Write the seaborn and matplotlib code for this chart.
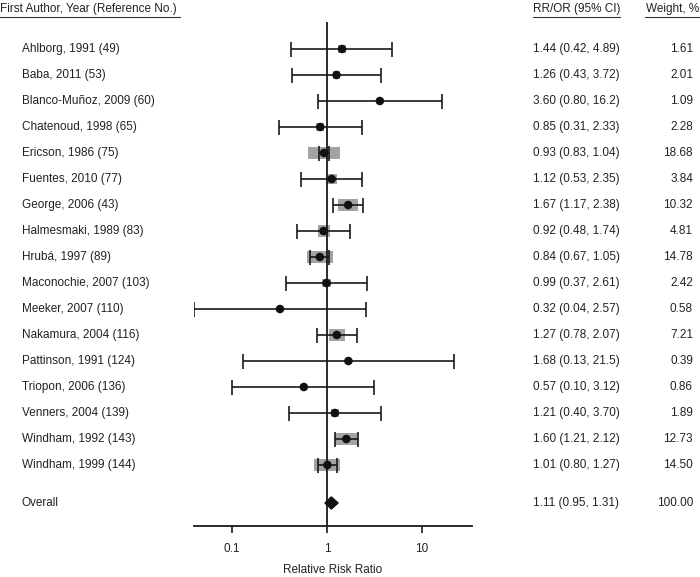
import numpy as np
import matplotlib
matplotlib.use("Agg")
import matplotlib.pyplot as plt
import matplotlib.transforms as mtransforms
from matplotlib.patches import Rectangle, Polygon
from matplotlib.lines import Line2D
import seaborn as sns

studies = [
    "Ahlborg, 1991 (49)", "Baba, 2011 (53)", "Blanco-Muñoz, 2009 (60)",
    "Chatenoud, 1998 (65)", "Ericson, 1986 (75)", "Fuentes, 2010 (77)",
    "George, 2006 (43)", "Halmesmaki, 1989 (83)", "Hrubá, 1997 (89)",
    "Maconochie, 2007 (103)", "Meeker, 2007 (110)", "Nakamura, 2004 (116)",
    "Pattinson, 1991 (124)", "Triopon, 2006 (136)", "Venners, 2004 (139)",
    "Windham, 1992 (143)", "Windham, 1999 (144)",
]
rr = [1.44, 1.26, 3.60, 0.85, 0.93, 1.12, 1.67, 0.92, 0.84, 0.99, 0.32,
      1.27, 1.68, 0.57, 1.21, 1.60, 1.01]
ci_low = [0.42, 0.43, 0.80, 0.31, 0.83, 0.53, 1.17, 0.48, 0.67, 0.37, 0.04,
          0.78, 0.13, 0.10, 0.40, 1.21, 0.80]
ci_high = [4.89, 3.72, 16.2, 2.33, 1.04, 2.35, 2.38, 1.74, 1.05, 2.61, 2.57,
           2.07, 21.5, 3.12, 3.70, 2.12, 1.27]
weight = [1.61, 2.01, 1.09, 2.28, 18.68, 3.84, 10.32, 4.81, 14.78, 2.42, 0.58,
          7.21, 0.39, 0.86, 1.89, 12.73, 14.50]
overall_rr, overall_low, overall_high, overall_weight = 1.11, 0.95, 1.31, 100.00
x_ticks = [0.1, 1, 10]
x_ticklabels = ["0.1", "1", "10"]

sns.set_theme(style="white")
plt.rcParams["font.family"] = ["Liberation Sans", "DejaVu Sans"]

W, H = 700, 577
fig = plt.figure(figsize=(7, 5.77), dpi=100)

# axes geometry in pixels
ax_left, ax_right, ax_top, ax_bottom = 194, 472, 22, 526
ax = fig.add_axes([ax_left / W, 1 - ax_bottom / H,
                   (ax_right - ax_left) / W, (ax_bottom - ax_top) / H])

row0, row_step = 49, 26
n = len(studies)
ypos = np.arange(n)
y_overall = (503 - row0) / row_step

px_per_decade = 95
x_one = 327
xmin = 10 ** ((ax_left - x_one) / px_per_decade)
xmax = 10 ** ((ax_right - x_one) / px_per_decade)
ax.set_xscale("log")
ax.set_xlim(xmin, xmax)
ax.set_ylim((ax_bottom - row0) / row_step, (ax_top - row0) / row_step)

def px_to_logspan(px):
    return px / px_per_decade

def px_to_rows(px):
    return px / row_step

# weight boxes
for y, r, w in zip(ypos, rr, weight):
    wpx = 5 + 1.45 * w
    hpx = min(wpx, 12)
    half = px_to_logspan(wpx / 2)
    x0, x1 = r * 10 ** (-half), r * 10 ** half
    ax.add_patch(Rectangle((x0, y - px_to_rows(hpx / 2)), x1 - x0,
                           px_to_rows(hpx), facecolor="#a3a3a3",
                           edgecolor="none", zorder=1))

# confidence intervals
rr_a = np.array(rr)
ax.errorbar(rr_a, ypos, xerr=[rr_a - np.array(ci_low), np.array(ci_high) - rr_a],
            fmt="none", ecolor="#1a1a1a", elinewidth=1.2, capsize=5.4,
            capthick=1.2, zorder=2)
sns.scatterplot(x=rr, y=ypos, ax=ax, color="#111111", s=38, edgecolor="none",
                zorder=3, legend=False)

# overall diamond
dh = px_to_rows(6)
ax.add_patch(Polygon([(overall_low, y_overall), (overall_rr, y_overall - dh),
                      (overall_high, y_overall), (overall_rr, y_overall + dh)],
                     closed=True, facecolor="#111111", edgecolor="#111111",
                     zorder=3))

ax.axvline(1, color="#1a1a1a", lw=1.3, zorder=2)

for side in ["top", "right", "left"]:
    ax.spines[side].set_visible(False)
ax.spines["bottom"].set_color("#1a1a1a")
ax.spines["bottom"].set_linewidth(1.3)
ax.set_yticks([])
ax.set_xticks(x_ticks)
ax.set_xticklabels(x_ticklabels)
ax.xaxis.set_minor_locator(matplotlib.ticker.NullLocator())

fs = 8.5
tc = "#222222"
ax.tick_params(axis="x", bottom=True, direction="out", length=5, width=1.2,
               color="#1a1a1a", labelsize=fs, labelcolor=tc, pad=7)
ax.set_xlabel("Relative Risk Ratio", fontsize=fs, color=tc, labelpad=7)
ax.set_facecolor("none")

# text columns
trans = mtransforms.blended_transform_factory(fig.transFigure, ax.transData)

def fmt(v):
    return f"{v:.1f}" if v >= 10 else f"{v:.2f}"

for y, name, r, lo, hi, w in zip(ypos, studies, rr, ci_low, ci_high, weight):
    ax.text(22 / W, y, name, transform=trans, ha="left", va="center",
            fontsize=fs, color=tc, clip_on=False)
    ax.text(533 / W, y, f"{r:.2f} ({fmt(lo)}, {fmt(hi)})", transform=trans,
            ha="left", va="center", fontsize=fs, color=tc, clip_on=False)
    ax.text(693 / W, y, f"{w:.2f}", transform=trans, ha="right", va="center",
            fontsize=fs, color=tc, clip_on=False)

ax.text(22 / W, y_overall, "Overall", transform=trans, ha="left", va="center",
        fontsize=fs, color=tc, clip_on=False)
ax.text(533 / W, y_overall,
        f"{overall_rr:.2f} ({fmt(overall_low)}, {fmt(overall_high)})",
        transform=trans, ha="left", va="center", fontsize=fs, color=tc,
        clip_on=False)
ax.text(693 / W, y_overall, f"{overall_weight:.2f}", transform=trans,
        ha="right", va="center", fontsize=fs, color=tc, clip_on=False)

# headers with underlines
head_y = 1 - 9 / H
line_y = 1 - 17 / H
fig.text(0 / W, head_y, "First Author, Year (Reference No.)", ha="left",
         va="center", fontsize=fs, color=tc)
fig.text(533 / W, head_y, "RR/OR (95% CI)", ha="left", va="center",
         fontsize=fs, color=tc)
fig.text(699 / W, head_y, "Weight, %", ha="right", va="center",
         fontsize=fs, color=tc)
for x0, x1 in [(0, 180), (533, 620), (645, 700)]:
    fig.add_artist(Line2D([x0 / W, x1 / W], [line_y, line_y],
                          transform=fig.transFigure, color="#333333", lw=0.8))

fig.savefig("out.png", dpi=100)
